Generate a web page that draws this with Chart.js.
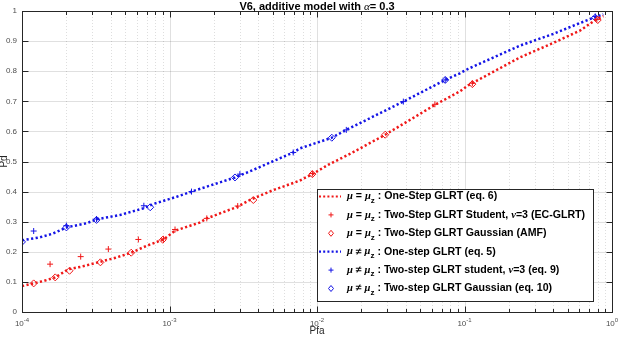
<!DOCTYPE html>
<html>
<head>
<meta charset="utf-8">
<script src="https://cdn.jsdelivr.net/npm/chart.js@4/dist/chart.umd.min.js"></script>
<style>
  html, body { margin: 0; padding: 0; background: #fff; }
  #wrap { width: 619px; height: 337px; position: relative; }
</style>
</head>
<body>
<div id="wrap"><canvas id="pdChart"></canvas></div>
<script>
// mu = mu_z, one-step GLRT (red dotted curve)
const redLinePfa = [1e-4, 1.19e-4, 1.4e-4, 1.68e-4, 2.06e-4, 2.5e-4, 3.4e-4, 4.3e-4, 5.5e-4, 7e-4, 9.1e-4, 1.09e-3, 1.6e-3, 1.79e-3, 2.9e-3, 3.5e-3, 4.93e-3, 7.6e-3, 9.3e-3, 1.2e-2, 1.67e-2, 2.9e-2, 4e-2, 6.3e-2, 9.3e-2, 0.106, 0.238, 0.4, 0.607, 0.77, 0.873];
const redLinePd = [0.086, 0.095, 0.103, 0.115, 0.142, 0.150, 0.167, 0.180, 0.197, 0.220, 0.241, 0.270, 0.297, 0.311, 0.350, 0.372, 0.403, 0.436, 0.458, 0.490, 0.525, 0.589, 0.630, 0.688, 0.733, 0.753, 0.846, 0.894, 0.935, 0.970, 0.983];

// mu != mu_z, one-step GLRT (blue dotted curve)
const blueLinePfa = [1e-4, 1.32e-4, 1.63e-4, 2e-4, 2.75e-4, 3.2e-4, 4.6e-4, 6.6e-4, 7.8e-4, 1.12e-3, 1.41e-3, 2.78e-3, 3.46e-3, 6.9e-3, 7.7e-3, 1.05e-2, 1.26e-2, 1.58e-2, 3.85e-2, 7.4e-2, 9.3e-2, 0.106, 0.238, 0.4, 0.607, 0.77, 0.873];
const blueLinePd = [0.238, 0.248, 0.261, 0.281, 0.295, 0.308, 0.322, 0.344, 0.359, 0.383, 0.400, 0.447, 0.466, 0.530, 0.544, 0.566, 0.579, 0.605, 0.699, 0.771, 0.793, 0.808, 0.885, 0.924, 0.960, 0.980, 0.989];

// two-step markers
const redPlusPfa = [1.55e-4, 2.5e-4, 3.85e-4, 6.15e-4, 9.1e-4, 1.09e-3, 1.79e-3, 2.9e-3, 9.3e-3, 6.3e-2, 0.113, 0.79];
const redPlusPd = [0.159, 0.184, 0.209, 0.241, 0.243, 0.274, 0.311, 0.352, 0.460, 0.690, 0.760, 0.972];
const redDiamPfa = [1.2e-4, 1.68e-4, 2.1e-4, 3.4e-4, 5.5e-4, 9e-4, 3.7e-3, 9.3e-3, 2.9e-2, 0.113, 0.8];
const redDiamPd = [0.095, 0.115, 0.137, 0.165, 0.197, 0.240, 0.372, 0.458, 0.589, 0.757, 0.970];
const bluePlusPfa = [1.2e-4, 2e-4, 3.2e-4, 6.7e-4, 1.41e-3, 3e-3, 6.9e-3, 1.58e-2, 3.85e-2, 7.4e-2, 0.77];
const bluePlusPd = [0.269, 0.287, 0.309, 0.353, 0.400, 0.458, 0.530, 0.605, 0.699, 0.771, 0.982];
const blueDiamPfa = [1e-4, 2e-4, 3.2e-4, 7.4e-4, 2.78e-3, 1.26e-2, 7.4e-2, 0.77];
const blueDiamPd = [0.233, 0.281, 0.306, 0.348, 0.447, 0.579, 0.771, 0.978];

const yTicks = [0, 0.1, 0.2, 0.3, 0.4, 0.5, 0.6, 0.7, 0.8, 0.9, 1];
const xDecades = [-4, -3, -2, -1, 0];

const RED = "#f01818";
const BLUE = "#1414e6";

const toPts = (xs, ys) => xs.map((x, i) => ({ x: x, y: ys[i] }));

const legendRows = [
  { kind: "line", color: RED, eq: "=", text: " : One-Step GLRT (eq. 6)" },
  { kind: "cross", color: RED, eq: "=", text: " : Two-Step GLRT Student, ", nu: true, tail: "=3 (EC-GLRT)" },
  { kind: "diamond", color: RED, eq: "=", text: " : Two-Step GLRT Gaussian (AMF)" },
  { kind: "line", color: BLUE, eq: "\u2260", text: " : One-step GLRT (eq. 5)" },
  { kind: "cross", color: BLUE, eq: "\u2260", text: " : Two-step GLRT student, ", nu: true, tail: "=3 (eq. 9)" },
  { kind: "diamond", color: BLUE, eq: "\u2260", text: " : Two-step GLRT Gaussian (eq. 10)" },
];

const axesPlugin = {
  id: "matlabAxes",
  beforeDatasetsDraw: (chart) => {
    const { ctx, chartArea: a, scales } = chart;
    const xs = scales.x, ys = scales.y;
    ctx.save();
    // minor grid (dotted)
    ctx.strokeStyle = "rgba(0,0,0,0.13)";
    ctx.lineWidth = 1;
    ctx.setLineDash([1, 2]);
    for (let d = -4; d < 0; d++) {
      for (let m = 2; m <= 9; m++) {
        const px = Math.round(xs.getPixelForValue(m * Math.pow(10, d))) + 0.5;
        ctx.beginPath(); ctx.moveTo(px, a.top); ctx.lineTo(px, a.bottom); ctx.stroke();
      }
    }
    // major grid (solid)
    ctx.setLineDash([]);
    ctx.strokeStyle = "rgba(0,0,0,0.12)";
    xDecades.forEach((d) => {
      const px = Math.round(xs.getPixelForValue(Math.pow(10, d))) + 0.5;
      ctx.beginPath(); ctx.moveTo(px, a.top); ctx.lineTo(px, a.bottom); ctx.stroke();
    });
    yTicks.forEach((v) => {
      const py = Math.round(ys.getPixelForValue(v)) + 0.5;
      ctx.beginPath(); ctx.moveTo(a.left, py); ctx.lineTo(a.right, py); ctx.stroke();
    });
    ctx.restore();
  },
  afterDraw: (chart) => {
    const { ctx, chartArea: a, scales } = chart;
    const xs = scales.x, ys = scales.y;
    ctx.save();
    ctx.strokeStyle = "#262626";
    ctx.lineWidth = 1;
    const L = Math.round(a.left) + 0.5, R = Math.round(a.right) + 0.5;
    const T = Math.round(a.top) + 0.5, B = Math.round(a.bottom) + 0.5;
    ctx.strokeRect(L, T, R - L, B - T);

    // tick marks inside, all four sides
    ctx.beginPath();
    for (let d = -4; d <= 0; d++) {
      for (let m = 1; m <= 9; m++) {
        if (d === 0 && m > 1) break;
        const px = Math.round(xs.getPixelForValue(m * Math.pow(10, d))) + 0.5;
        const len = m === 1 ? 6 : 3.5;
        ctx.moveTo(px, B); ctx.lineTo(px, B - len);
        ctx.moveTo(px, T); ctx.lineTo(px, T + len);
      }
    }
    yTicks.forEach((v) => {
      const py = Math.round(ys.getPixelForValue(v)) + 0.5;
      ctx.moveTo(L, py); ctx.lineTo(L + 6, py);
      ctx.moveTo(R, py); ctx.lineTo(R - 6, py);
    });
    ctx.stroke();

    // tick labels
    ctx.fillStyle = "#4d4d4d";
    ctx.font = "8px 'Liberation Sans', Arial, sans-serif";
    ctx.textAlign = "right";
    ctx.textBaseline = "middle";
    yTicks.forEach((v) => {
      const txt = v === 0 || v === 1 ? String(v) : v.toFixed(1);
      ctx.fillText(txt, a.left - 5, ys.getPixelForValue(v));
    });
    xDecades.forEach((d) => {
      const px = xs.getPixelForValue(Math.pow(10, d));
      ctx.font = "8px 'Liberation Sans', Arial, sans-serif";
      const w1 = ctx.measureText("10").width;
      ctx.font = "6px 'Liberation Sans', Arial, sans-serif";
      const sup = String(d);
      const w2 = ctx.measureText(sup).width;
      const x0 = px - (w1 + w2) / 2;
      ctx.textAlign = "left";
      ctx.textBaseline = "alphabetic";
      ctx.font = "8px 'Liberation Sans', Arial, sans-serif";
      ctx.fillText("10", x0, a.bottom + 14);
      ctx.font = "6px 'Liberation Sans', Arial, sans-serif";
      ctx.fillText(sup, x0 + w1, a.bottom + 10);
    });

    // axis labels
    ctx.fillStyle = "#262626";
    ctx.font = "10px 'Liberation Sans', Arial, sans-serif";
    ctx.textAlign = "center";
    ctx.textBaseline = "middle";
    ctx.fillText("Pfa", (a.left + a.right) / 2, 331);
    ctx.save();
    ctx.translate(4, (a.top + a.bottom) / 2);
    ctx.rotate(-Math.PI / 2);
    ctx.fillText("Pd", 0, 0);
    ctx.restore();

    // title
    ctx.fillStyle = "#000";
    ctx.textBaseline = "middle";
    const t1 = "V6, additive model with ";
    const t2 = "\u03b1";
    const t3 = "= 0.3";
    const fB = "bold 11px 'Liberation Sans', Arial, sans-serif";
    const fI = "italic 11px 'Liberation Serif', serif";
    ctx.font = fB; const w1 = ctx.measureText(t1).width; const w3 = ctx.measureText(t3).width;
    ctx.font = fI; const w2 = ctx.measureText(t2).width;
    let tx = (a.left + a.right) / 2 - (w1 + w2 + w3) / 2;
    ctx.textAlign = "left";
    ctx.font = fB; ctx.fillText(t1, tx, 7); tx += w1;
    ctx.font = fI; ctx.fillText(t2, tx, 7); tx += w2;
    ctx.font = fB; ctx.fillText(t3, tx, 7);

    // legend
    const bx = 317.5, by = 189.5, bw = 276, bh = 112;
    ctx.fillStyle = "#fff";
    ctx.fillRect(bx, by, bw, bh);
    ctx.strokeStyle = "#262626";
    ctx.strokeRect(bx, by, bw, bh);
    legendRows.forEach((row, i) => {
      const cy = 196.5 + i * 18.4;
      ctx.strokeStyle = row.color;
      ctx.fillStyle = row.color;
      if (row.kind === "line") {
        ctx.save();
        ctx.lineWidth = 2.2;
        ctx.setLineDash([2, 2.2]);
        ctx.beginPath(); ctx.moveTo(319, cy); ctx.lineTo(341, cy); ctx.stroke();
        ctx.restore();
      } else if (row.kind === "cross") {
        ctx.lineWidth = 1;
        ctx.beginPath();
        ctx.moveTo(331, cy - 2.5); ctx.lineTo(331, cy + 2.5);
        ctx.moveTo(328.5, cy); ctx.lineTo(333.5, cy);
        ctx.stroke();
      } else {
        ctx.lineWidth = 1;
        ctx.beginPath();
        ctx.moveTo(331, cy - 3); ctx.lineTo(333.5, cy); ctx.lineTo(331, cy + 3); ctx.lineTo(328.5, cy);
        ctx.closePath(); ctx.stroke();
      }
      ctx.fillStyle = "#000";
      ctx.textAlign = "left";
      ctx.textBaseline = "middle";
      let x = 347;
      const bold = "bold 10.6px 'Liberation Sans', Arial, sans-serif";
      const ital = "italic bold 10.6px 'Liberation Serif', serif";
      const small = "bold 8px 'Liberation Sans', Arial, sans-serif";
      ctx.font = ital; ctx.fillText("\u03bc", x, cy); x += ctx.measureText("\u03bc").width;
      ctx.font = bold; const eq = " " + row.eq + " ";
      ctx.fillText(eq, x, cy); x += ctx.measureText(eq).width;
      ctx.font = ital; ctx.fillText("\u03bc", x, cy); x += ctx.measureText("\u03bc").width;
      ctx.font = small; ctx.fillText("z", x, cy + 4); x += ctx.measureText("z").width;
      ctx.font = bold; ctx.fillText(row.text, x, cy); x += ctx.measureText(row.text).width;
      if (row.nu) {
        ctx.font = ital; ctx.fillText("\u03bd", x, cy); x += ctx.measureText("\u03bd").width;
        ctx.font = bold; ctx.fillText(row.tail, x, cy);
      }
    });
    ctx.restore();
  },
};

const lineDs = (xs, ys, color) => ({
  type: "line",
  data: toPts(xs, ys),
  borderColor: color,
  borderWidth: 2.5,
  borderDash: [2.2, 2.4],
  pointRadius: 0,
  fill: false,
  tension: 0,
});

const markDs = (xs, ys, color, style, r) => ({
  type: "scatter",
  data: toPts(xs, ys),
  borderColor: color,
  backgroundColor: "rgba(0,0,0,0)",
  borderWidth: 1,
  pointStyle: style,
  pointRadius: r,
  pointHoverRadius: r,
});

new Chart(document.getElementById("pdChart").getContext("2d"), {
  type: "scatter",
  data: {
    datasets: [
      lineDs(redLinePfa, redLinePd, RED),
      markDs(redPlusPfa, redPlusPd, RED, "cross", 3),
      markDs(redDiamPfa, redDiamPd, RED, "rectRot", 3.5),
      lineDs(blueLinePfa, blueLinePd, BLUE),
      markDs(bluePlusPfa, bluePlusPd, BLUE, "cross", 3),
      markDs(blueDiamPfa, blueDiamPd, BLUE, "rectRot", 3.5),
    ],
  },
  options: {
    responsive: true,
    maintainAspectRatio: false,
    animation: false,
    events: [],
    layout: { padding: { left: 22, right: 7, top: 11, bottom: 25 } },
    scales: {
      x: { type: "logarithmic", min: 1e-4, max: 1, display: false },
      y: { type: "linear", min: 0, max: 1, display: false },
    },
    plugins: {
      legend: { display: false },
      tooltip: { enabled: false },
    },
  },
  plugins: [axesPlugin],
});
</script>
</body>
</html>
